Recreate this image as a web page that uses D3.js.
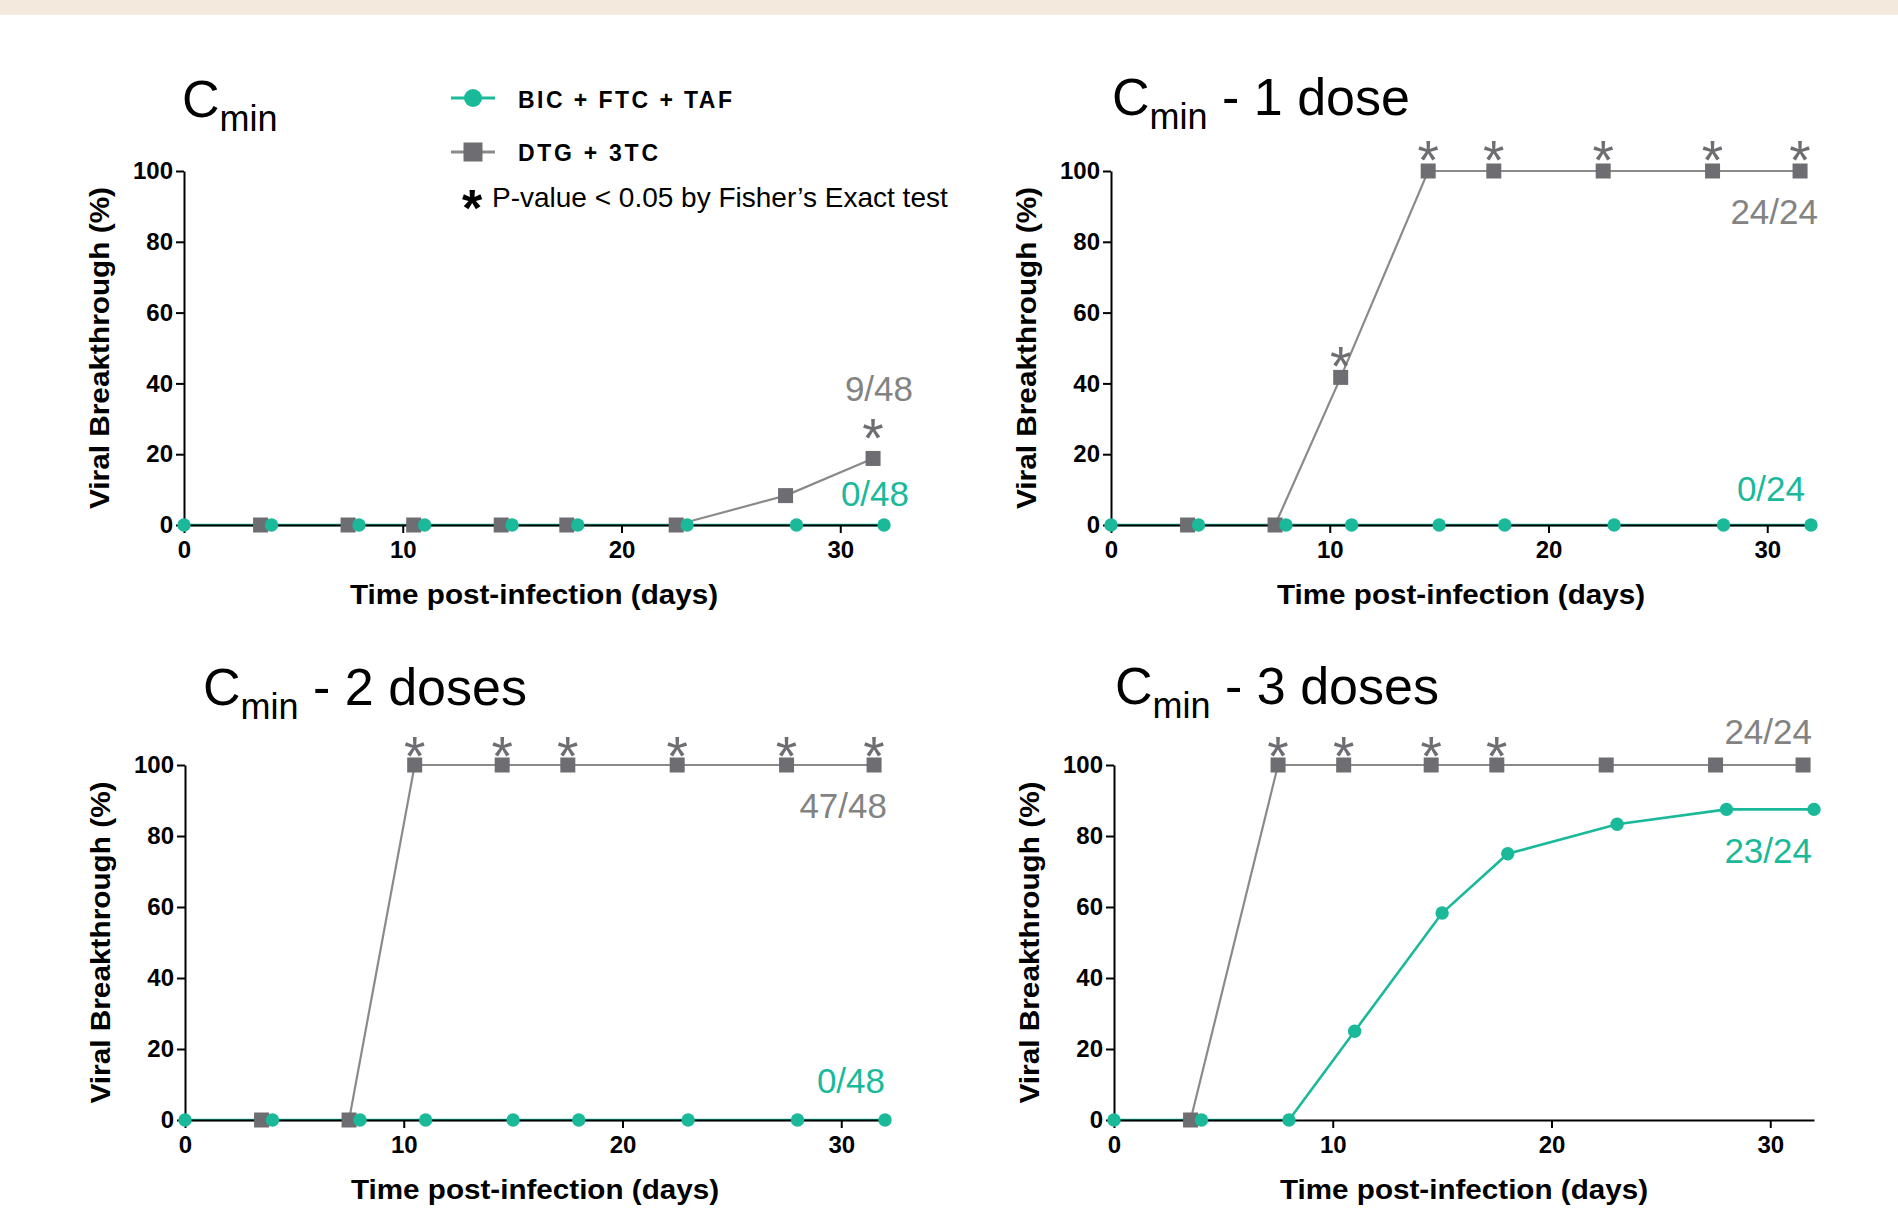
<!DOCTYPE html>
<html>
<head>
<meta charset="utf-8">
<script src="https://cdn.jsdelivr.net/npm/d3@7"></script>
<style>
  body { margin: 0; background: #fff; }
  svg { display: block; font-family: "Liberation Sans", Arial, Helvetica, sans-serif; }
  .axis path, .axis line { stroke: #000; stroke-width: 2px; }
  .axis text { font-size: 24px; font-weight: bold; fill: #000; font-family: "Liberation Sans", Arial, sans-serif; }
</style>
</head>
<body>
<div id="vis"></div>
<script>
// sampling days for each regimen
const bicDays = [0, 4, 8, 11, 15, 18, 23, 28, 32]
const dtgDays = [3.5, 7.5, 10.5, 14.5, 17.5, 22.5, 27.5, 31.5]

const panelSuffix = ['', ' - 1 dose', ' - 2 doses', ' - 3 doses']

// % viral breakthrough, one array per panel
const bicCmin = [0, 0, 0, 0, 0, 0, 0, 0, 0]
const bicDose1 = [0, 0, 0, 0, 0, 0, 0, 0, 0]
const bicDose2 = [0, 0, 0, 0, 0, 0, 0, 0, 0]
const bicDose3 = [0, 0, 0, 25, 58.3, 75, 83.3, 87.5, 87.5]

const dtgCmin = [0, 0, 0, 0, 0, 0, 8.3, 18.8]
const dtgDose1 = [0, 0, 41.7, 100, 100, 100, 100, 100]
const dtgDose2 = [0, 0, 100, 100, 100, 100, 100, 100]
const dtgDose3 = [0, 100, 100, 100, 100, 100, 100, 100]

// days where P < 0.05 (asterisk over DTG point)
const sigCmin = [31.5]
const sigDose1 = [10.5, 14.5, 17.5, 22.5, 27.5, 31.5]
const sigDose2 = [10.5, 14.5, 17.5, 22.5, 27.5, 31.5]
const sigDose3 = [7.5, 10.5, 14.5, 17.5]

const dtgLabels = ['9/48', '24/24', '47/48', '24/24']
const bicLabels = ['0/48', '0/24', '0/48', '23/24']

const xTicks = [0, 10, 20, 30]
const yTicks = [0, 20, 40, 60, 80, 100]

const bicAll = [bicCmin, bicDose1, bicDose2, bicDose3]
const dtgAll = [dtgCmin, dtgDose1, dtgDose2, dtgDose3]
const sigAll = [sigCmin, sigDose1, sigDose2, sigDose3]

const teal = '#1ab99a'
const grayMark = '#6e6d72'
const grayLine = '#8a8a8a'
const grayText = '#838383'

const W = 1898, H = 1225

// panel placement (pixels)
const layout = [
  { x0: 184, top: 171, bottom: 525, tx: 182, ty: 117, dl: [913, 401], bl: [909, 506], ast: 32 },
  { x0: 1111, top: 171, bottom: 525, tx: 1112, ty: 115, dl: [1818, 224], bl: [1805, 501], ast: 23 },
  { x0: 185, top: 765, bottom: 1120, tx: 203, ty: 705, dl: [887, 818], bl: [885, 1093], ast: 21 },
  { x0: 1114, top: 765, bottom: 1120, tx: 1115, ty: 704, dl: [1812, 744], bl: [1812, 863], ast: 21 }
]

const svg = d3.select('#vis').append('svg')
  .attr('width', W)
  .attr('height', H)

// beige strip on top
svg.append('rect').attr('x', 0).attr('y', 0).attr('width', W).attr('height', 15).attr('fill', '#f3eadd')

function drawPanel(i) {
  const L = layout[i]
  const x = d3.scaleLinear().domain([0, 32]).range([L.x0, L.x0 + 700])
  const y = d3.scaleLinear().domain([0, 100]).range([L.bottom, L.top])
  const g = svg.append('g')

  const bic = bicDays.map((d, j) => ({ day: d, v: bicAll[i][j] }))
  const dtg = dtgDays.map((d, j) => ({ day: d, v: dtgAll[i][j] }))
  const line = d3.line().x(d => x(d.day)).y(d => y(d.v))

  // title  C_min ...
  const title = g.append('text')
    .attr('x', L.tx).attr('y', L.ty)
    .style('font-size', '52px')
  title.append('tspan').text('C')
  title.append('tspan').text('min').attr('dy', 14).style('font-size', '36px')
  if (panelSuffix[i]) title.append('tspan').text(panelSuffix[i]).attr('dy', -14)

  // lines
  g.append('path').datum([{ day: 0, v: 0 }].concat(dtg))
    .attr('d', line).attr('fill', 'none').attr('stroke', grayLine).attr('stroke-width', 2.2)
  g.append('path').datum(bic)
    .attr('d', line).attr('fill', 'none').attr('stroke', teal).attr('stroke-width', 2.6)

  // axes
  g.append('g').attr('class', 'axis')
    .attr('transform', `translate(0,${L.bottom})`)
    .call(d3.axisBottom(x).tickValues(xTicks).tickSize(8).tickSizeOuter(0).tickPadding(8))
  g.append('g').attr('class', 'axis')
    .attr('transform', `translate(${L.x0},0)`)
    .call(d3.axisLeft(y).tickValues(yTicks).tickSize(8).tickSizeOuter(0).tickPadding(3))

  // axis titles
  g.append('text')
    .attr('transform', `translate(${L.x0 - 75},${(L.top + L.bottom) / 2}) rotate(-90)`)
    .attr('text-anchor', 'middle')
    .attr('textLength', 322).attr('lengthAdjust', 'spacingAndGlyphs')
    .style('font-size', '28px').style('font-weight', 'bold')
    .text('Viral Breakthrough (%)')
  g.append('text')
    .attr('x', x(16)).attr('y', L.bottom + 79)
    .attr('text-anchor', 'middle')
    .attr('textLength', 368).attr('lengthAdjust', 'spacingAndGlyphs')
    .style('font-size', '28px').style('font-weight', 'bold')
    .text('Time post-infection (days)')

  // markers
  g.selectAll('.sq').data(dtg).join('rect')
    .attr('class', 'sq')
    .attr('x', d => x(d.day) - 7.5).attr('y', d => y(d.v) - 7.5)
    .attr('width', 15).attr('height', 15)
    .attr('fill', grayMark)
  g.selectAll('.dot').data(bic).join('circle')
    .attr('class', 'dot')
    .attr('cx', d => x(d.day)).attr('cy', d => y(d.v))
    .attr('r', 6.7)
    .attr('fill', teal)

  // significance asterisks
  g.selectAll('.ast').data(sigAll[i]).join('text')
    .attr('class', 'ast')
    .attr('x', d => x(d))
    .attr('y', d => y(dtg.find(p => p.day === d).v) - L.ast + 31)
    .attr('text-anchor', 'middle')
    .style('font-size', '55px')
    .attr('fill', grayMark)
    .text('*')

  // n/N labels
  g.append('text').attr('x', L.dl[0]).attr('y', L.dl[1])
    .attr('text-anchor', 'end').style('font-size', '35px').attr('fill', grayText)
    .text(dtgLabels[i])
  g.append('text').attr('x', L.bl[0]).attr('y', L.bl[1])
    .attr('text-anchor', 'end').style('font-size', '35px').attr('fill', teal)
    .text(bicLabels[i])
}

[0, 1, 2, 3].forEach(drawPanel)

// legend
const leg = svg.append('g')
leg.append('line').attr('x1', 451).attr('x2', 495).attr('y1', 98).attr('y2', 98)
  .attr('stroke', teal).attr('stroke-width', 3)
leg.append('circle').attr('cx', 473).attr('cy', 98).attr('r', 9).attr('fill', teal)
leg.append('text').attr('x', 518).attr('y', 108)
  .attr('textLength', 214).attr('lengthAdjust', 'spacing')
  .style('font-size', '23px').style('font-weight', 'bold')
  .text('BIC + FTC + TAF')

leg.append('line').attr('x1', 451).attr('x2', 495).attr('y1', 152).attr('y2', 152)
  .attr('stroke', grayLine).attr('stroke-width', 3)
leg.append('rect').attr('x', 463.5).attr('y', 142.5).attr('width', 19).attr('height', 19).attr('fill', grayMark)
leg.append('text').attr('x', 518).attr('y', 161)
  .attr('textLength', 140).attr('lengthAdjust', 'spacing')
  .style('font-size', '23px').style('font-weight', 'bold')
  .text('DTG + 3TC')

leg.append('text').attr('x', 472).attr('y', 226)
  .attr('text-anchor', 'middle')
  .style('font-size', '52px').style('font-weight', 'bold')
  .text('*')
leg.append('text').attr('x', 492).attr('y', 207)
  .style('font-size', '28px')
  .text('P-value < 0.05 by Fisher\u2019s Exact test')
</script>
</body>
</html>
